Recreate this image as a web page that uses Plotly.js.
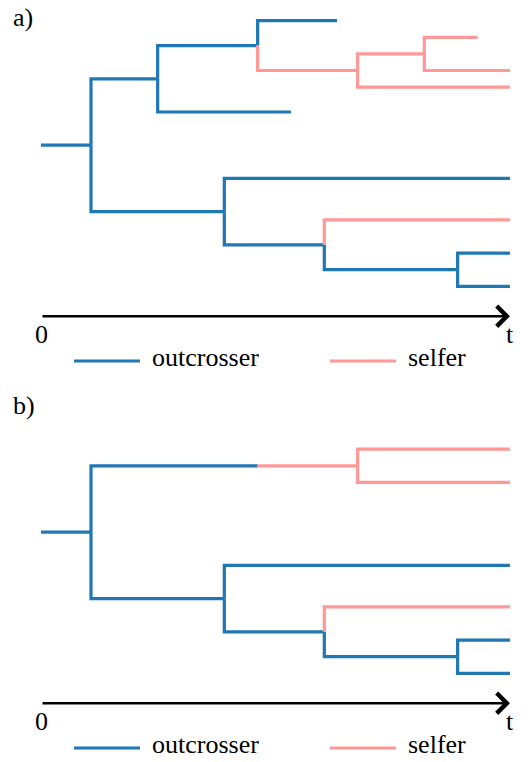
<!DOCTYPE html>
<html><head><meta charset="utf-8">
<script src="https://cdn.plot.ly/plotly-3.0.1.min.js"></script>
<style>
html,body{margin:0;padding:0;background:#fff}
#chart text{font-family:'Liberation Serif','Times New Roman',serif !important;}
</style>
</head><body><div id="chart" style="width:528px;height:762px"></div>
<script>
// ---------- data: tree a) ----------
// each branch: start time, end time, lineage level, parent level, type (O = outcrosser, S = selfer)
const aStart   = [0, 1.5, 1.5, 3.5, 3.5, 6.5, 6.5, 9.5, 9.5, 11.5, 11.5, 5.5, 5.5, 8.5, 8.5, 12.5, 12.5];
const aEnd     = [1.5, 3.5, 5.5, 6.5, 7.5, 8.88, 9.5, 11.5, 14.07, 13.1, 14.07, 14.07, 8.5, 14.07, 12.5, 14.07, 14.07];
const aY       = [7.5, 3.5, 11.5, 1.5, 5.5, 0, 3, 2, 4, 1, 3, 9.5, 13.5, 12, 15, 14, 16];
const aParentY = [7.5, 7.5, 7.5, 3.5, 3.5, 1.5, 1.5, 3, 3, 2, 2, 11.5, 11.5, 13.5, 13.5, 15, 15];
const aType    = ['O','O','O','O','O','O','S','S','S','S','S','O','O','S','O','O','O'];

// ---------- data: tree b) ----------
const bStart   = [0, 1.5, 6.5, 9.5, 9.5, 1.5, 5.5, 5.5, 8.5, 8.5, 12.5, 12.5];
const bEnd     = [1.5, 6.5, 9.5, 14.07, 14.07, 5.5, 14.07, 8.5, 14.07, 12.5, 14.07, 14.07];
const bY       = [7.5, 3.5, 3.5, 2.5, 4.5, 11.5, 9.5, 13.5, 12, 15, 14, 16];
const bParentY = [7.5, 7.5, 3.5, 3.5, 3.5, 7.5, 11.5, 11.5, 13.5, 13.5, 15, 15];
const bType    = ['O','O','S','S','S','O','O','O','S','O','O','O'];

// ---------- time axis ----------
const tMax = 14.07;
const axisLevel = 17.8;
const timeLabels = ['0', 't'];
const panelLabels = ['a)', 'b)'];
const typeNames = {O: 'outcrosser', S: 'selfer'};
const typeOrder = ['O', 'S'];

// ---------- styles ----------
const colors = {O: '#1f77b4', S: '#ff9896'};
const FS = 26;
const W = 528, H = 762;
const py = p => 1 - p / H;   // pixel row -> paper y
const px = p => p / W;       // pixel col -> paper x
const tf = () => ({family: 'Liberation Serif', size: FS, color: '#000'});

function branchTraces(start, end, y, parentY, type, xa, ya) {
  return typeOrder.map(tp => {
    const xs = [], ys = [];
    for (let i = 0; i < start.length; i++) {
      if (type[i] !== tp) continue;
      xs.push(start[i], start[i], end[i], null);
      ys.push(parentY[i], y[i], y[i], null);
    }
    return {x: xs, y: ys, xaxis: xa, yaxis: ya, type: 'scatter', mode: 'lines',
            line: {color: colors[tp], width: 3.2}, hoverinfo: 'skip', showlegend: false,
            name: typeNames[tp], connectgaps: false};
  });
}

const data = [
  ...branchTraces(aStart, aEnd, aY, aParentY, aType, 'x', 'y'),
  ...branchTraces(bStart, bEnd, bY, bParentY, bType, 'x2', 'y2')
];

const annotations = [];
const shapes = [];
const panels = [{xa: 'x', ya: 'y', off: 0}, {xa: 'x2', ya: 'y2', off: 387}];
panels.forEach((p, k) => {
  // time axis arrow
  annotations.push({x: tMax, y: axisLevel, ax: 0, ay: axisLevel, xref: p.xa, yref: p.ya,
    axref: p.xa, ayref: p.ya, text: '', showarrow: true, arrowhead: 4, arrowsize: 1.5,
    arrowwidth: 2.6, arrowcolor: '#000'});
  annotations.push({x: 0, y: axisLevel, xref: p.xa, yref: p.ya, text: timeLabels[0], showarrow: false,
    xanchor: 'center', yanchor: 'top', yshift: -2, font: tf()});
  annotations.push({x: tMax, y: axisLevel, xref: p.xa, yref: p.ya, text: timeLabels[1], showarrow: false,
    xanchor: 'center', yanchor: 'top', yshift: -2, font: tf()});
  // panel label
  annotations.push({x: px(11), y: py(18 + p.off), xref: 'paper', yref: 'paper', text: panelLabels[k],
    showarrow: false, xanchor: 'left', yanchor: 'middle', font: tf()});
  // legend
  const ly = 361 + p.off;
  shapes.push({type: 'line', xref: 'paper', yref: 'paper', x0: px(74), x1: px(140), y0: py(ly), y1: py(ly),
    line: {color: colors.O, width: 3}});
  shapes.push({type: 'line', xref: 'paper', yref: 'paper', x0: px(330), x1: px(396), y0: py(ly), y1: py(ly),
    line: {color: colors.S, width: 3}});
  annotations.push({x: px(150), y: py(ly - 4), xref: 'paper', yref: 'paper', text: typeNames.O,
    showarrow: false, xanchor: 'left', yanchor: 'middle', font: tf()});
  annotations.push({x: px(406), y: py(ly - 4), xref: 'paper', yref: 'paper', text: typeNames.S,
    showarrow: false, xanchor: 'left', yanchor: 'middle', font: tf()});
});

const layout = {
  width: W, height: H, margin: {l: 0, r: 0, t: 0, b: 0},
  paper_bgcolor: '#fff', plot_bgcolor: '#fff', showlegend: false,
  xaxis: {visible: false, range: [-41/33.33, 487/33.33], fixedrange: true, domain: [0, 1], anchor: 'y'},
  xaxis2: {visible: false, range: [-41/33.33, 487/33.33], fixedrange: true, domain: [0, 1], anchor: 'y2'},
  yaxis: {visible: false, domain: [0.5, 1], range: [(381 - 20.7) / 16.6, -20.7 / 16.6], fixedrange: true, anchor: 'x'},
  yaxis2: {visible: false, domain: [0, 0.5], range: [(762 - 407.7) / 16.6, (381 - 407.7) / 16.6], fixedrange: true, anchor: 'x2'},
  annotations: annotations,
  shapes: shapes
};

Plotly.newPlot('chart', data, layout, {staticPlot: true, displayModeBar: false});
</script></body></html>
